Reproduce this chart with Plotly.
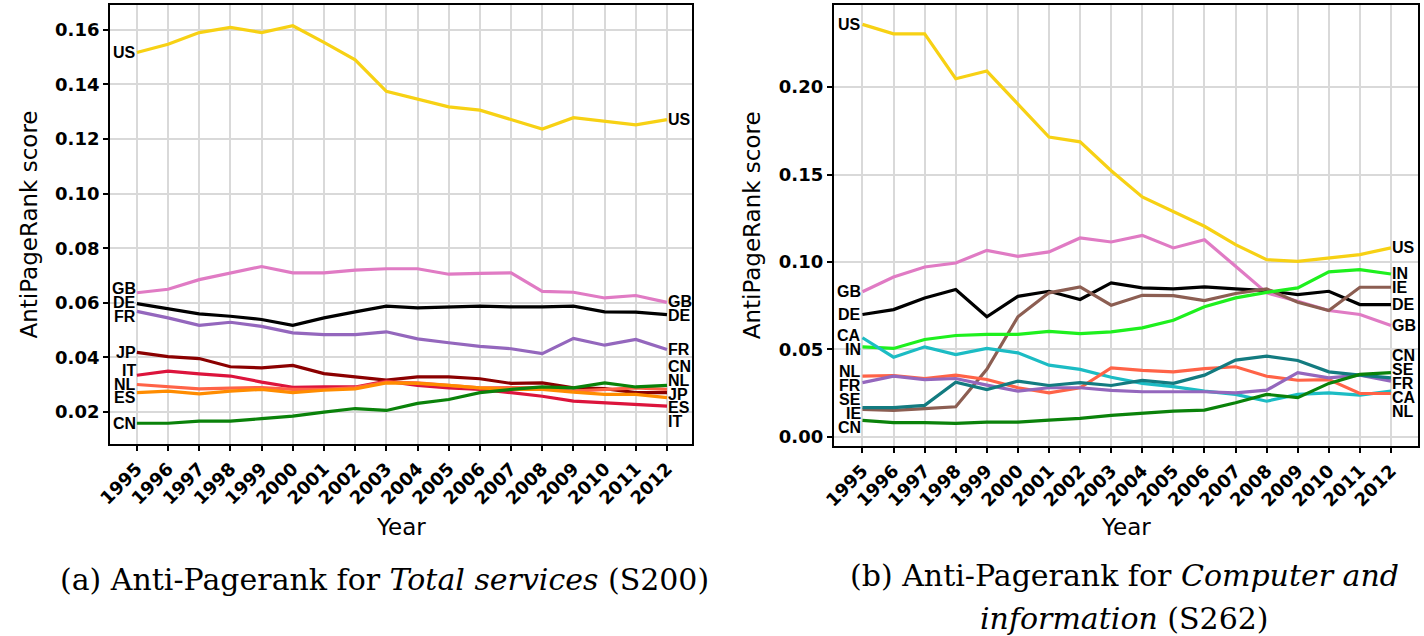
import plotly.graph_objects as go

W, H = 1424, 636
years = list(range(1995, 2013))

# ---------------- Panel (a): Total services (S200) ----------------
countries_a = ["US", "GB", "DE", "FR", "JP", "IT", "NL", "ES", "CN"]
us_a = [0.1517, 0.1547, 0.1590, 0.1609, 0.1590, 0.1615, 0.1554, 0.1490, 0.1375, 0.1347, 0.1318, 0.1306, 0.1271, 0.1237, 0.1278, 0.1265, 0.1252, 0.1271]
gb_a = [0.0637, 0.0650, 0.0685, 0.0710, 0.0733, 0.0710, 0.0710, 0.0720, 0.0725, 0.0725, 0.0705, 0.0708, 0.0710, 0.0642, 0.0639, 0.0618, 0.0627, 0.0602]
de_a = [0.0597, 0.0578, 0.0560, 0.0551, 0.0539, 0.0518, 0.0545, 0.0567, 0.0588, 0.0582, 0.0585, 0.0588, 0.0585, 0.0585, 0.0588, 0.0567, 0.0566, 0.0557]
fr_a = [0.0569, 0.0545, 0.0518, 0.0529, 0.0514, 0.0490, 0.0484, 0.0484, 0.0494, 0.0468, 0.0454, 0.0441, 0.0432, 0.0414, 0.0470, 0.0445, 0.0466, 0.0429]
jp_a = [0.0419, 0.0403, 0.0396, 0.0366, 0.0362, 0.0371, 0.0341, 0.0329, 0.0317, 0.0329, 0.0329, 0.0322, 0.0305, 0.0307, 0.0289, 0.0286, 0.0271, 0.0271]
it_a = [0.0335, 0.0350, 0.0340, 0.0332, 0.0310, 0.0291, 0.0292, 0.0292, 0.0313, 0.0298, 0.0289, 0.0283, 0.0271, 0.0258, 0.0240, 0.0234, 0.0228, 0.0222]
nl_a = [0.0301, 0.0293, 0.0285, 0.0288, 0.0290, 0.0283, 0.0283, 0.0290, 0.0310, 0.0307, 0.0298, 0.0289, 0.0290, 0.0289, 0.0277, 0.0283, 0.0289, 0.0283]
es_a = [0.0271, 0.0277, 0.0267, 0.0277, 0.0283, 0.0271, 0.0280, 0.0285, 0.0307, 0.0305, 0.0298, 0.0289, 0.0283, 0.0283, 0.0273, 0.0265, 0.0265, 0.0253]
cn_a = [0.0159, 0.0159, 0.0167, 0.0167, 0.0176, 0.0185, 0.0200, 0.0213, 0.0206, 0.0232, 0.0246, 0.0271, 0.0283, 0.0292, 0.0289, 0.0307, 0.0292, 0.0298]
series_a = [us_a, gb_a, de_a, fr_a, jp_a, it_a, nl_a, es_a, cn_a]

# ---------------- Panel (b): Computer and information (S262) ----------------
countries_b = ["US", "GB", "DE", "IE", "IN", "CA", "NL", "FR", "SE", "CN"]
us_b = [0.2359, 0.2305, 0.2305, 0.2048, 0.2092, 0.1904, 0.1714, 0.1687, 0.1522, 0.1372, 0.1290, 0.1204, 0.1099, 0.1013, 0.1003, 0.1023, 0.1042, 0.1080]
gb_b = [0.0829, 0.0914, 0.0971, 0.0994, 0.1066, 0.1032, 0.1057, 0.1137, 0.1114, 0.1152, 0.1080, 0.1127, 0.0975, 0.0823, 0.0775, 0.0722, 0.0699, 0.0636]
de_b = [0.0699, 0.0727, 0.0794, 0.0842, 0.0686, 0.0803, 0.0832, 0.0785, 0.0880, 0.0851, 0.0846, 0.0857, 0.0846, 0.0836, 0.0813, 0.0832, 0.0756, 0.0756]
ie_b = [0.0156, 0.0150, 0.0160, 0.0171, 0.0385, 0.0686, 0.0823, 0.0857, 0.0752, 0.0809, 0.0807, 0.0779, 0.0819, 0.0846, 0.0769, 0.0722, 0.0855, 0.0855]
in_b = [0.0514, 0.0505, 0.0556, 0.0579, 0.0585, 0.0585, 0.0603, 0.0590, 0.0600, 0.0623, 0.0666, 0.0743, 0.0794, 0.0826, 0.0851, 0.0943, 0.0956, 0.0931]
ca_b = [0.0566, 0.0455, 0.0514, 0.0470, 0.0505, 0.0480, 0.0409, 0.0385, 0.0340, 0.0305, 0.0286, 0.0261, 0.0242, 0.0203, 0.0242, 0.0251, 0.0238, 0.0261]
nl_b = [0.0346, 0.0350, 0.0333, 0.0352, 0.0327, 0.0280, 0.0251, 0.0280, 0.0394, 0.0379, 0.0371, 0.0389, 0.0400, 0.0346, 0.0323, 0.0327, 0.0247, 0.0247]
fr_b = [0.0309, 0.0346, 0.0327, 0.0333, 0.0295, 0.0261, 0.0280, 0.0280, 0.0265, 0.0257, 0.0257, 0.0257, 0.0251, 0.0266, 0.0366, 0.0337, 0.0352, 0.0318]
se_b = [0.0166, 0.0166, 0.0179, 0.0312, 0.0270, 0.0318, 0.0293, 0.0309, 0.0293, 0.0322, 0.0305, 0.0352, 0.0438, 0.0461, 0.0436, 0.0371, 0.0352, 0.0337]
cn_b = [0.0093, 0.0080, 0.0080, 0.0076, 0.0083, 0.0083, 0.0095, 0.0105, 0.0122, 0.0133, 0.0146, 0.0152, 0.0194, 0.0242, 0.0223, 0.0305, 0.0356, 0.0366]
series_b = [us_b, gb_b, de_b, ie_b, in_b, ca_b, nl_b, fr_b, se_b, cn_b]

colors = {
    "US": "#F7D114", "GB": "#E07BC4", "DE": "#000000", "FR": "#9467BD",
    "JP": "#8B0000", "IT": "#DC143C", "NL": "#FF6347", "ES": "#FF8C00",
    "CN": "#0A820A", "IN": "#1EF01E", "CA": "#1CBCC4", "SE": "#137B80",
    "IE": "#8C5E52",
}

yticks_a = [0.02, 0.04, 0.06, 0.08, 0.10, 0.12, 0.14, 0.16]
yticks_b = [0.00, 0.05, 0.10, 0.15, 0.20]

x_title = "Year"
y_title = "AntiPageRank score"
caption_a = "(a) Anti-Pagerank for <i>Total services</i> (S200)"
caption_b1 = "(b) Anti-Pagerank for <i>Computer and</i>"
caption_b2 = "<i>information</i> (S262)"


def repel(values, gap):
    """Simple 1-D label repulsion: keeps labels at least `gap` apart."""
    order = sorted(range(len(values)), key=lambda i: -values[i])
    pos = [values[i] for i in order]
    for _ in range(500):
        moved = False
        for k in range(len(pos) - 1):
            d = pos[k] - pos[k + 1]
            if d < gap - 1e-9:
                shift = (gap - d) / 2
                pos[k] += shift
                pos[k + 1] -= shift
                moved = True
        if not moved:
            break
    out = [0] * len(values)
    for k, i in enumerate(order):
        out[i] = pos[k]
    return out


def px(xp):
    return xp / W


def py(yp):
    return 1 - yp / H


fig = go.Figure()

panels = [
    dict(names=countries_a, data=series_a, xa="x", ya="y", gap=0.0050),
    dict(names=countries_b, data=series_b, xa="x2", ya="y2", gap=0.0080),
]

annotations = []
label_font = dict(family="Liberation Sans", size=16, color="black")
for p in panels:
    for name, vals in zip(p["names"], p["data"]):
        fig.add_trace(go.Scatter(
            x=years, y=vals, mode="lines", name=name, showlegend=False,
            line=dict(color=colors[name], width=3.2),
            xaxis=p["xa"], yaxis=p["ya"],
        ))
    first = repel([v[0] for v in p["data"]], p["gap"])
    last = repel([v[-1] for v in p["data"]], p["gap"])
    for name, yf, yl in zip(p["names"], first, last):
        annotations.append(dict(x=years[0], y=yf, xref=p["xa"], yref=p["ya"],
                                text="<b>%s</b>" % name, showarrow=False,
                                xanchor="right", yanchor="middle", font=label_font,
                                xshift=1))
        annotations.append(dict(x=years[-1], y=yl, xref=p["xa"], yref=p["ya"],
                                text="<b>%s</b>" % name, showarrow=False,
                                xanchor="left", yanchor="middle", font=label_font,
                                xshift=-1))

title_font = dict(family="DejaVu Sans", size=23, color="black")
cap_font = dict(family="DejaVu Serif", size=30, color="black")
for cx in (391, 1123):
    annotations.append(dict(x=px(cx), y=py(528), xref="paper", yref="paper",
                            text=x_title, showarrow=False, font=title_font,
                            xanchor="center", yanchor="middle"))
for ycx, cy in [(15, 225), (745, 226)]:
    annotations.append(dict(x=px(ycx), y=py(cy), xref="paper", yref="paper",
                            text=y_title, showarrow=False, font=title_font,
                            textangle=-90, xanchor="center", yanchor="middle"))
annotations.append(dict(x=px(374), y=py(580), xref="paper", yref="paper", text=caption_a,
                        showarrow=False, font=cap_font, xanchor="center", yanchor="middle"))
annotations.append(dict(x=px(1122), y=py(576), xref="paper", yref="paper", text=caption_b1,
                        showarrow=False, font=cap_font, xanchor="center", yanchor="middle"))
annotations.append(dict(x=px(1122), y=py(619), xref="paper", yref="paper", text=caption_b2,
                        showarrow=False, font=cap_font, xanchor="center", yanchor="middle"))

tick_font = dict(family="DejaVu Sans", size=18, color="black", weight="bold")
common_x = dict(tickmode="array", tickvals=years, ticktext=[str(y) for y in years],
                tickangle=-45, tickfont=tick_font, ticks="outside", ticklen=5,
                tickwidth=2, tickcolor="black", showgrid=True, gridcolor="#D9D9D9",
                gridwidth=2, showline=True, linecolor="black", linewidth=2,
                mirror=True, zeroline=False)
common_y = dict(tickfont=tick_font, ticks="outside", ticklen=5, tickwidth=2,
                tickcolor="black", showgrid=True, gridcolor="#D9D9D9", gridwidth=2,
                showline=True, linecolor="black", linewidth=2, mirror=True,
                zeroline=False, tickformat=".2f", tickmode="array")

fig.update_layout(
    width=W, height=H, margin=dict(l=0, r=0, t=0, b=0),
    paper_bgcolor="white", plot_bgcolor="white",
    xaxis=dict(domain=[px(97), px(685)], range=[1994.14, 2012.81], anchor="y", **common_x),
    yaxis=dict(domain=[py(445), py(5)], range=[0.0082, 0.1691], anchor="x",
               tickvals=yticks_a, **common_y),
    xaxis2=dict(domain=[px(828), px(1418)], range=[1994.08, 2012.87], anchor="y2", **common_x),
    yaxis2=dict(domain=[py(447), py(5)], range=[-0.0055, 0.247], anchor="x2",
                tickvals=yticks_b, **common_y),
    annotations=annotations,
)

fig.write_html("out.html", config={"displayModeBar": False},
               post_script="document.body.style.margin='0';document.body.style.overflow='hidden';")
